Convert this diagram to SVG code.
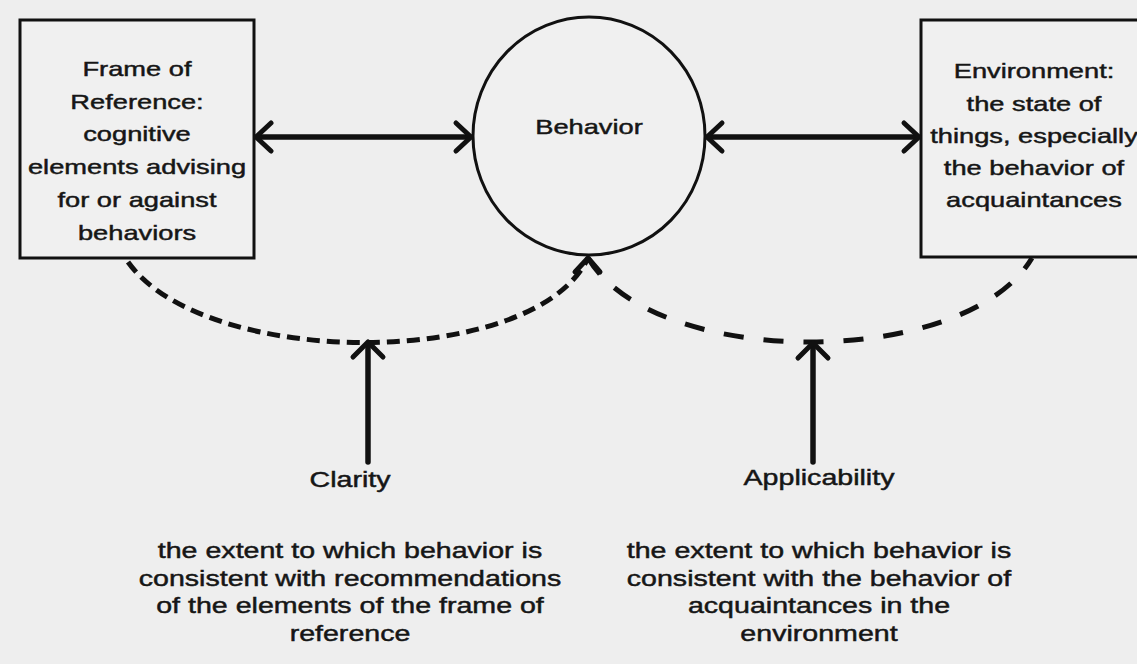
<svg xmlns="http://www.w3.org/2000/svg" width="1137" height="664" viewBox="0 0 1137 664">
<defs>
<style>
.bg{fill:#eeeeee}
.box{fill:#f0f0f0;stroke:#111;stroke-width:3}
.t{font-family:"Liberation Sans",Arial,sans-serif;fill:#161616;stroke:#161616;stroke-width:0.45;text-anchor:middle}
.tb{font-size:20.5px}
.tl{font-size:21.5px}
.solid{fill:none;stroke:#111;stroke-width:5.5;stroke-linecap:round;stroke-linejoin:round}
.head{fill:none;stroke:#111;stroke-width:5;stroke-linecap:round;stroke-linejoin:round}
.dash1{fill:none;stroke:#111;stroke-width:5;stroke-dasharray:13 7}
.dash2{fill:none;stroke:#111;stroke-width:5;stroke-dasharray:20 20}
</style>
</defs>
<rect class="bg" x="0" y="0" width="1137" height="664"/>

<g id="frame-of-reference">
<rect class="box" x="20" y="20" width="234" height="238"/>
<g transform="translate(137,0) scale(1.33,1)">
<text class="t tb" x="0" y="76">Frame of</text>
<text class="t tb" x="0" y="109">Reference:</text>
<text class="t tb" x="0" y="141">cognitive</text>
<text class="t tb" x="0" y="174">elements advising</text>
<text class="t tb" x="0" y="207">for or against</text>
<text class="t tb" x="0" y="240">behaviors</text>
</g>
</g>

<g id="behavior">
<ellipse cx="589" cy="136" rx="116" ry="119" fill="#f0f0f0" stroke="#111" stroke-width="3"/>
<g transform="translate(589,0) scale(1.33,1)">
<text class="t tb" x="0" y="134">Behavior</text>
</g>
</g>

<g id="environment">
<rect class="box" x="921" y="20" width="230" height="237"/>
<g transform="translate(1034,0) scale(1.33,1)">
<text class="t tb" x="0" y="78">Environment:</text>
<text class="t tb" x="0" y="111">the state of</text>
<text class="t tb" x="0" y="143">things, especially</text>
<text class="t tb" x="0" y="175">the behavior of</text>
<text class="t tb" x="0" y="207">acquaintances</text>
</g>
</g>

<g id="clarity">
<g transform="translate(350,0) scale(1.33,1)">
<text class="t tl" x="0" y="487">Clarity</text>
<text class="t tl" x="0" y="558">the extent to which behavior is</text>
<text class="t tl" x="0" y="586">consistent with recommendations</text>
<text class="t tl" x="0" y="613">of the elements of the frame of</text>
<text class="t tl" x="0" y="641">reference</text>
</g>
</g>

<g id="applicability">
<g transform="translate(819,0) scale(1.33,1)">
<text class="t tl" x="0" y="485">Applicability</text>
<text class="t tl" x="0" y="558">the extent to which behavior is</text>
<text class="t tl" x="0" y="586">consistent with the behavior of</text>
<text class="t tl" x="0" y="613">acquaintances in the</text>
<text class="t tl" x="0" y="641">environment</text>
</g>
</g>

<g id="connectors">
<!-- Frame of Reference <-> Behavior -->
<path class="solid" d="M257,137 L470,137"/>
<path class="head" d="M271,123 L256,137 L271,151"/>
<path class="head" d="M456,123 L471,137 L456,151"/>
<!-- Behavior <-> Environment -->
<path class="solid" d="M708,137 L918,137"/>
<path class="head" d="M722,123 L707,137 L722,151"/>
<path class="head" d="M904,123 L919,137 L904,151"/>
<!-- dashed arcs -->
<path class="dash1" d="M128,262 C205,370 535,370 588,258"/>
<path class="dash2" d="M588,258 C655,370 965,370 1032,258"/>
<path class="head" d="M575,272 L588,258 L600,272"/>
<!-- Clarity arrow -->
<path class="solid" d="M368,462 L368,344"/>
<path class="head" d="M353,357 L368,342 L383,357"/>
<!-- Applicability arrow -->
<path class="solid" d="M813,462 L813,345"/>
<path class="head" d="M798,358 L813,343 L828,358"/>
</g>
</svg>
